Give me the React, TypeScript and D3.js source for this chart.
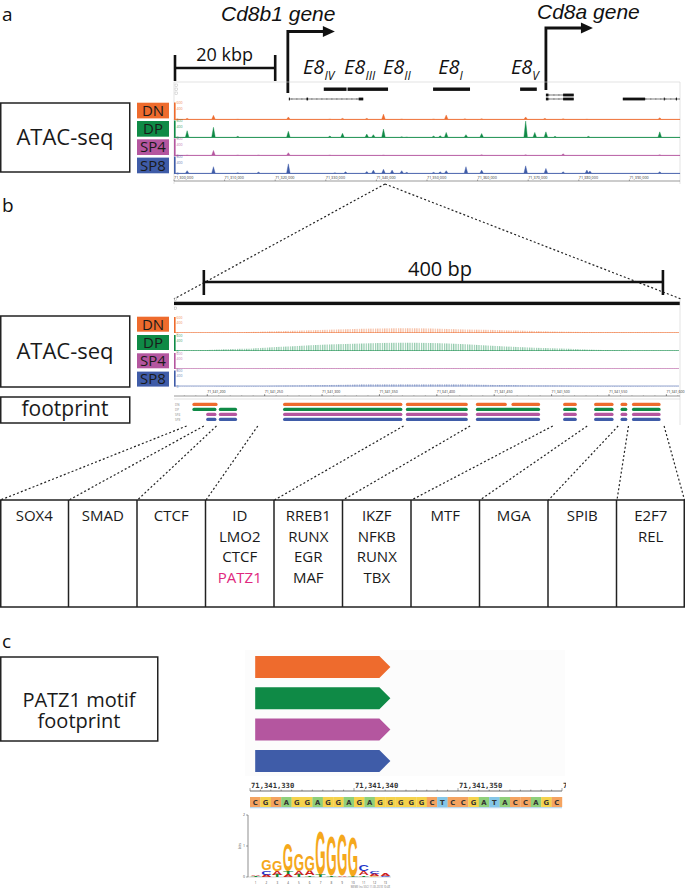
import React from 'react';
import * as d3 from 'd3';

// ---------------- shared ----------------
const CELLS = ['DN', 'DP', 'SP4', 'SP8'];
const CELL_COLORS = ['#ee6b2d', '#0f8a46', '#b4569f', '#3f5ca8'];

// ---------------- panel a (kb offset from 71,300,000) ----------------
const A_TICK_KB = [0, 10, 20, 30, 40, 50, 60, 70, 80, 90];
const A_TICK_LABELS = ['71,300,000', '71,310,000', '71,320,000', '71,330,000', '71,340,000', '71,350,000', '71,360,000', '71,370,000', '71,380,000', '71,390,000'];
const A_RANGE_MAX = 600;
const PEAKS_DN = [[2.6, 40], [7.8, 150], [12.6, 15], [22.6, 90], [30.8, 20], [33.3, 40], [38.1, 40], [41.4, 190], [45.0, 20], [51.3, 20], [53.8, 160], [57.5, 30], [60.8, 30], [69.5, 90], [73.3, 40], [76.9, 30], [81.6, 15], [96.0, 60]];
const PEAKS_DP = [[2.6, 240], [7.8, 360], [12.6, 40], [22.6, 220], [30.8, 50], [33.3, 150], [38.1, 120], [39.4, 100], [41.4, 300], [45.0, 30], [46.0, 20], [51.3, 50], [52.6, 60], [53.8, 180], [57.7, 100], [60.8, 140], [69.5, 580], [71.3, 180], [73.5, 200], [75.3, 40], [81.9, 40], [96.0, 200]];
const PEAKS_SP4 = [[2.6, 20], [7.8, 180], [12.6, 20], [16.7, 20], [22.6, 100], [30.8, 20], [41.4, 20], [60.8, 30], [69.5, 30], [76.9, 60], [96.0, 30]];
const PEAKS_SP8 = [[2.6, 100], [7.8, 240], [12.6, 30], [16.7, 50], [22.6, 340], [31.8, 30], [33.9, 60], [38.1, 70], [39.4, 120], [41.4, 150], [43.1, 120], [45.0, 100], [46.0, 40], [51.3, 40], [52.6, 60], [53.8, 100], [57.7, 240], [60.8, 120], [69.5, 270], [73.5, 180], [76.9, 60], [81.6, 120], [82.2, 90], [96.0, 60]];
const A_PEAKS = [PEAKS_DN, PEAKS_DP, PEAKS_SP4, PEAKS_SP8];

const ENHANCERS = [[29.6, 34.1], [34.3, 42.3], [51.2, 58.5], [68.4, 71.7]];
const ENH_LABELS = [{ kb: 25.5, sub: 'IV' }, { kb: 33.6, sub: 'III' }, { kb: 41.3, sub: 'II' }, { kb: 52.2, sub: 'I' }, { kb: 66.6, sub: 'V' }];
const GENES = [
  { row: 1, start: 22.7, end: 37.4, exons: [[22.7, 22.9], [26.2, 26.5], [36.5, 37.4]] },
  { row: 0, start: 73.5, end: 79.0, exons: [[73.5, 74.0], [76.9, 79.0]] },
  { row: 1, start: 73.5, end: 79.0, exons: [[73.5, 74.0], [76.9, 79.0]] },
  { row: 1, start: 88.7, end: 100, exons: [[88.7, 93.1], [96.8, 97.0], [99.2, 99.4]] },
];
const TSS = [{ label: 'Cd8b1 gene', kb: 22.5 }, { label: 'Cd8a gene', kb: 73.5 }];
const SCALE_A_KB = 20;

// ---------------- panel b (bp offset from 71,341,000) ----------------
const B_TICK_BP = [200, 250, 300, 350, 400, 450, 500, 550, 600];
const B_TICK_LABELS = ['71,341,200', '71,341,250', '71,341,300', '71,341,350', '71,341,400', '71,341,450', '71,341,500', '71,341,550', '71,341,600'];
const B_POS = [171, 200, 230, 260, 290, 320, 350, 380, 410, 440, 470, 500, 530, 560, 590, 611];
const B_DN = [20, 20, 30, 70, 100, 140, 170, 175, 150, 120, 90, 60, 40, 25, 20, 20];
const B_DP = [20, 40, 80, 150, 220, 260, 300, 310, 280, 220, 150, 100, 60, 30, 20, 20];
const B_SP4 = [12, 12, 12, 15, 20, 20, 20, 22, 20, 20, 18, 15, 12, 12, 12, 12];
const B_SP8 = [10, 10, 15, 30, 50, 70, 80, 85, 80, 70, 50, 35, 20, 15, 10, 10];
const B_SIGNALS = [B_DN, B_DP, B_SP4, B_SP8];

const FP_DN = [[187, 209], [266, 370], [373, 427], [434, 461], [465, 490], [510, 522], [537, 554], [560, 566], [570, 595]];
const FP_DP = [[187, 208], [210, 226], [266, 370], [373, 427], [434, 490], [510, 522], [537, 554], [560, 566], [570, 595]];
const FP_SP4 = [[199, 208], [210, 226], [266, 370], [373, 427], [434, 490], [510, 522], [537, 554], [560, 566], [570, 595]];
const FP_SP8 = [[199, 208], [210, 226], [266, 370], [373, 427], [434, 490], [510, 522], [537, 554], [560, 566], [570, 595]];
const FOOTPRINTS = [FP_DN, FP_DP, FP_SP4, FP_SP8];
const FP_LINKS = [182, 197, 208, 244, 371, 429, 501, 531, 558, 567, 598];
const SCALE_B_BP = 400;
const SCALE_B_START = 197;

const TF_GROUPS = [['SOX4'], ['SMAD'], ['CTCF'], ['ID', 'LMO2', 'CTCF', 'PATZ1'], ['RREB1', 'RUNX', 'EGR', 'MAF'], ['IKZF', 'NFKB', 'RUNX', 'TBX'], ['MTF'], ['MGA'], ['SPIB'], ['E2F7', 'REL']];
const HIGHLIGHT_TF = 'PATZ1';

// ---------------- panel c (bp offset from 71,341,000) ----------------
const SEQ_START = 330;
const SEQ = 'CGCAGGAGGAGAGGGGGCTCCGATACCAGC';
const C_TICK_BP = [330, 340, 350, 360];
const C_TICK_LABELS = ['71,341,330', '71,341,340', '71,341,350', '71,341,360'];
const PATZ1_SITES = [[330.5, 343.5], [330.5, 343.5], [330.5, 343.5], [330.5, 343.5]];
const LOGO = [
  [['T', 0.04], ['A', 0.04]],
  [['A', 0.07], ['C', 0.14], ['G', 0.32]],
  [['T', 0.06], ['A', 0.12], ['G', 0.32]],
  [['A', 0.1], ['T', 0.1], ['G', 0.9]],
  [['T', 0.06], ['A', 0.14], ['G', 0.55]],
  [['T', 0.05], ['A', 0.15], ['G', 0.52]],
  [['T', 0.1], ['G', 1.4]],
  [['T', 0.05], ['G', 1.3]],
  [['A', 0.05], ['G', 1.33]],
  [['T', 0.04], ['G', 1.27]],
  [['T', 0.05], ['A', 0.14], ['C', 0.22]],
  [['G', 0.04], ['A', 0.07], ['C', 0.1]],
  [['C', 0.04], ['A', 0.07]],
];
const LOGO_POSITIONS = LOGO.map((_, i) => String(i + 1));
const LOGO_COLORS: Record<string, string> = { A: '#cc1f1f', C: '#1f35c8', G: '#f5a81c', T: '#14852f' };
const BASE_BG: Record<string, string> = { A: '#8fcf7a', C: '#f4a360', G: '#f5d24c', T: '#84c6e8' };
const GLYPH_W: Record<string, number> = { A: 0.722, C: 0.722, G: 0.778, T: 0.611 };

const FONT = "'Open Sans', 'Noto Sans', sans-serif";

function peakPoints(peaks: number[][], hw: number, x0: number, x1: number, base: number) {
  const pts: [number, number][] = [[x0, base]];
  [...peaks].sort((a, b) => a[0] - b[0]).forEach(([p, v]) => {
    pts.push([p - hw, base], [p, v], [p + hw, base]);
  });
  pts.push([x1, base]);
  return pts;
}

const Dotted = ({ x1, y1, x2, y2 }: any) => (
  <line x1={x1} y1={y1} x2={x2} y2={y2} stroke="#222" strokeWidth={1.2} strokeDasharray="2 2.2" />
);

export default function App() {
  const W = 685, H = 889;

  const xA = d3.scaleLinear().domain([0, 100]).range([174, 680]);
  const laneATop = [102.5, 120.5, 138.5, 156.5];
  const laneAH = 17;
  const xB = d3.scaleLinear().domain([171, 611]).range([174, 679]);
  const laneBBase = [333, 351, 369, 386.5];
  const laneBH = 16;
  const xC = d3.scaleLinear().domain([330, 360]).range([250, 562]);
  const colW = xC(1) - xC(0);
  const xLogo = d3.scaleBand<string>().domain(LOGO_POSITIONS).range([250, 391]).padding(0.04);
  const yLogo = d3.scaleLinear().domain([0, 2]).range([877, 815]);

  const labelRects = (top: number, step: number, h: number) =>
    CELLS.map((c, i) => (
      <g key={c}>
        <rect x={137} y={top + i * step} width={32} height={h} fill={CELL_COLORS[i]} />
        <text x={153} y={top + i * step + h / 2 + 5.3} textAnchor="middle" fontSize={15} fill="#1a1a1a">{c}</text>
      </g>
    ));

  const aTracks = CELLS.map((c, i) => {
    const y = d3.scaleLinear().domain([0, A_RANGE_MAX]).range([laneATop[i] + laneAH, laneATop[i]]);
    const pts = peakPoints(A_PEAKS[i], 0.35, 0, 100, 8);
    const area = d3.area<[number, number]>().x(d => xA(d[0])).y0(y(0)).y1(d => y(d[1]));
    return (
      <g key={c}>
        <rect x={174} y={laneATop[i]} width={1.6} height={laneAH} fill={CELL_COLORS[i]} />
        {[600, 400, 0].map((v) => (
          <text key={v} x={176.5} y={y(v) + 1.5} fontSize={3.6} fill={CELL_COLORS[i]} opacity={0.8}>{v}</text>
        ))}
        <path d={area(pts) || ''} fill={CELL_COLORS[i]} stroke={CELL_COLORS[i]} strokeWidth={0.4} />
        <line x1={xA(0)} x2={xA(100)} y1={y(0)} y2={y(0)} stroke={CELL_COLORS[i]} strokeWidth={0.8} opacity={0.7} />
      </g>
    );
  });

  const bTracks = CELLS.map((c, i) => {
    const base = laneBBase[i];
    const y = d3.scaleLinear().domain([0, A_RANGE_MAX]).range([base, base - laneBH]);
    const pts = B_POS.map((p, k) => [p, B_SIGNALS[i][k]] as [number, number]);
    const area = d3.area<[number, number]>().x(d => xB(d[0])).y0(base).y1(d => y(d[1])).curve(d3.curveMonotoneX);
    return (
      <g key={c}>
        <rect x={174} y={base - laneBH} width={1.6} height={laneBH} fill={CELL_COLORS[i]} />
        {[600, 400, 0].map((v) => (
          <text key={v} x={176.5} y={y(v) + 1.5} fontSize={3.4} fill={CELL_COLORS[i]} opacity={0.8}>{v}</text>
        ))}
        <path d={area(pts) || ''} fill={`url(#stripe${i})`} />
        <line x1={xB(171)} x2={xB(611)} y1={base - 0.5} y2={base - 0.5} stroke={CELL_COLORS[i]} strokeWidth={1} opacity={0.55} />
      </g>
    );
  });

  const logo = LOGO.map((col, ci) => {
    let yb = yLogo(0);
    const bw = xLogo.bandwidth();
    const cx = (xLogo(LOGO_POSITIONS[ci]) as number) + bw / 2;
    return (
      <g key={ci}>
        {col.map(([l, b], li) => {
          const h = yLogo(0) - yLogo(b as number);
          const yBottom = yb;
          yb -= h;
          const sx = bw / (GLYPH_W[l as string] * 100);
          const sy = h / 72;
          return (
            <text key={li} transform={`translate(${cx},${yBottom}) scale(${sx},${sy})`} x={0} y={0}
              textAnchor="middle" fontSize={100} fontWeight="bold" fontFamily="'Liberation Sans', Arial, sans-serif"
              fill={LOGO_COLORS[l as string]}>{l}</text>
          );
        })}
        <text x={cx} y={883.5} fontSize={3} textAnchor="middle" fill="#444">{LOGO_POSITIONS[ci]}</text>
      </g>
    );
  });

  const colWT = 685 / TF_GROUPS.length;

  return (
    <svg width={W} height={H} style={{ position: 'absolute', left: 0, top: 0, background: '#fff' }} fontFamily={FONT}>
      <defs>
        {CELL_COLORS.map((c, i) => (
          <pattern key={i} id={`stripe${i}`} width={2.3} height={20} patternUnits="userSpaceOnUse">
            <rect width={1.2} height={20} fill={c} opacity={0.45} />
          </pattern>
        ))}
        <clipPath id="rulerClip"><rect x={240} y={770} width={326} height={30} /></clipPath>
      </defs>
      <rect width={W} height={H} fill="#fff" />

      {/* ================= panel a ================= */}
      <text x={2} y={21} fontSize={19} fill="#111">a</text>

      {TSS.map((t, i) => {
        const x = xA(t.kb);
        const yTop = i === 0 ? 31.5 : 28;
        const yBot = i === 0 ? 93 : 90;
        const tip = x + 47;
        return (
          <g key={t.label}>
            <path d={`M${x},${yBot} V${yTop} H${tip - 10}`} fill="none" stroke="#111" strokeWidth={2.8} />
            <path d={`M${tip - 12},${yTop - 5.5} L${tip},${yTop} L${tip - 12},${yTop + 5.5} Z`} fill="#111" />
            <text x={i === 0 ? 221 : 537} y={i === 0 ? 21 : 18.5} fontSize={21} fontStyle="italic"
              fontFamily="'Liberation Sans', Arial, sans-serif" fill="#111">{t.label}</text>
          </g>
        );
      })}

      <line x1={xA(0) + 1} x2={xA(SCALE_A_KB)} y1={68} y2={68} stroke="#111" strokeWidth={2.6} />
      <line x1={xA(0) + 1} x2={xA(0) + 1} y1={55} y2={81} stroke="#111" strokeWidth={2.6} />
      <line x1={xA(SCALE_A_KB)} x2={xA(SCALE_A_KB)} y1={55} y2={81} stroke="#111" strokeWidth={2.6} />
      <text x={(xA(0) + xA(SCALE_A_KB)) / 2} y={61} textAnchor="middle" fontSize={18} fill="#111">20 kbp</text>

      {ENH_LABELS.map((e) => (
        <text key={e.sub} x={xA(e.kb)} y={74} fontSize={20} fontStyle="italic" fill="#111">
          E8<tspan fontSize={12} dy={6}>{e.sub}</tspan>
        </text>
      ))}

      <line x1={174} x2={680} y1={82} y2={82} stroke="#d0d0d0" strokeWidth={0.6} />
      <line x1={680} x2={680} y1={82} y2={184} stroke="#d0d0d0" strokeWidth={0.6} />
      <line x1={174} x2={174} y1={82} y2={184} stroke="#d0d0d0" strokeWidth={0.6} />
      {[0, 1, 2].map((k) => (
        <rect key={k} x={175} y={84 + k * 4} width={2.5} height={2.5} fill="none" stroke="#aaa" strokeWidth={0.4} />
      ))}

      {ENHANCERS.map(([s, e], i) => (
        <rect key={i} x={xA(s)} y={87.5} width={xA(e) - xA(s)} height={3.4} fill="#111" />
      ))}

      {GENES.map((g, i) => {
        const y = g.row === 0 ? 95 : 99;
        const ticks = d3.range(xA(g.start) + 3, xA(g.end), 5);
        return (
          <g key={i}>
            <line x1={xA(g.start)} x2={xA(g.end)} y1={y} y2={y} stroke="#222" strokeWidth={0.6} />
            {ticks.map((t, k) => (<line key={k} x1={t} x2={t} y1={y - 1} y2={y + 1} stroke="#444" strokeWidth={0.4} />))}
            {g.exons.map(([s, e], k) => (
              <rect key={k} x={xA(s)} y={y - 1.4} width={Math.max(1, xA(e) - xA(s))} height={2.8} fill="#111" />
            ))}
          </g>
        );
      })}

      <rect x={0.75} y={103} width={129} height={69} fill="none" stroke="#222" strokeWidth={1.5} />
      <text x={65} y={145} textAnchor="middle" fontSize={22} fill="#1a1a1a">ATAC-seq</text>
      {labelRects(102.7, 18.3, 15.7)}
      {aTracks}

      <line x1={174} x2={680} y1={181} y2={181} stroke="#555" strokeWidth={0.6} />
      {A_TICK_KB.map((k, i) => (
        <g key={k}>
          <line x1={xA(k)} x2={xA(k)} y1={179.5} y2={181} stroke="#555" strokeWidth={0.5} />
          <text x={xA(k)} y={178.5} fontSize={3.8} fill="#333">{A_TICK_LABELS[i]}</text>
        </g>
      ))}

      <Dotted x1={385} y1={184} x2={174} y2={299} />
      <Dotted x1={385} y1={184} x2={681} y2={299} />

      {/* ================= panel b ================= */}
      <text x={2} y={212} fontSize={19} fill="#111">b</text>
      <line x1={xB(SCALE_B_START)} x2={xB(SCALE_B_START + SCALE_B_BP)} y1={282} y2={282} stroke="#111" strokeWidth={2.6} />
      <line x1={xB(SCALE_B_START)} x2={xB(SCALE_B_START)} y1={270} y2={295} stroke="#111" strokeWidth={2.6} />
      <line x1={xB(SCALE_B_START + SCALE_B_BP)} x2={xB(SCALE_B_START + SCALE_B_BP)} y1={270} y2={295} stroke="#111" strokeWidth={2.6} />
      <text x={440} y={276} textAnchor="middle" fontSize={20} fill="#111">400 bp</text>

      <rect x={174} y={301.7} width={506} height={3.4} fill="#111" />
      <rect x={174.5} y={298} width={2.2} height={2.2} fill="none" stroke="#999" strokeWidth={0.4} />
      <rect x={174.5} y={307} width={2.2} height={2.2} fill="none" stroke="#999" strokeWidth={0.4} />
      <line x1={680} x2={680} y1={299} y2={425} stroke="#d0d0d0" strokeWidth={0.6} />

      <rect x={0.75} y={316} width={129} height={71} fill="none" stroke="#222" strokeWidth={1.5} />
      <text x={65} y={359} textAnchor="middle" fontSize={22} fill="#1a1a1a">ATAC-seq</text>
      {labelRects(316.7, 18.3, 15)}
      {bTracks}

      <line x1={174} x2={680} y1={396} y2={396} stroke="#555" strokeWidth={0.6} />
      {d3.range(180, 611, 10).map((bp) => (
        <line key={bp} x1={xB(bp)} x2={xB(bp)} y1={395} y2={396} stroke="#777" strokeWidth={0.4} />
      ))}
      {B_TICK_BP.map((bp, i) => (
        <g key={bp}>
          <line x1={xB(bp)} x2={xB(bp)} y1={394} y2={396} stroke="#444" strokeWidth={0.5} />
          <text x={xB(bp)} y={393} fontSize={3.6} fill="#333">{B_TICK_LABELS[i]}</text>
        </g>
      ))}
      <line x1={174} x2={680} y1={399} y2={399} stroke="#ccc" strokeWidth={0.6} />

      <rect x={0.75} y={397} width={129} height={26} fill="none" stroke="#222" strokeWidth={1.5} />
      <text x={65} y={416} textAnchor="middle" fontSize={21} fill="#1a1a1a">footprint</text>

      {FOOTPRINTS.map((segs, i) => (
        <g key={i}>
          <text x={175} y={404.5 + i * 5 + 1.2} fontSize={3} fill="#888">{CELLS[i]}</text>
          {segs.map(([s, e], k) => (
            <rect key={k} x={xB(s)} y={402.8 + i * 5} width={xB(e) - xB(s)} height={3.2} rx={1.6} fill={CELL_COLORS[i]} />
          ))}
        </g>
      ))}

      {FP_LINKS.map((bp, i) => (
        <Dotted key={i} x1={xB(bp)} y1={426} x2={Math.min(684.5, i * colWT + 0.5)} y2={500} />
      ))}

      <rect x={0.75} y={500} width={683.5} height={107} fill="none" stroke="#222" strokeWidth={1.5} />
      {TF_GROUPS.map((g, i) => (
        <g key={i}>
          {i > 0 && <line x1={i * colWT} x2={i * colWT} y1={500} y2={607} stroke="#222" strokeWidth={1.5} />}
          {g.map((tf, k) => (
            <text key={k} x={i * colWT + colWT / 2} y={521 + k * 20.5} textAnchor="middle" fontSize={15}
              fill={tf === HIGHLIGHT_TF ? '#e0287e' : '#1a1a1a'}>{tf}</text>
          ))}
        </g>
      ))}

      {/* ================= panel c ================= */}
      <text x={2} y={648} fontSize={19} fill="#111">c</text>
      <rect x={245} y={650} width={320} height={126} fill="#fcfcfc" />
      <rect x={0.75} y={657} width={157} height={84} fill="none" stroke="#222" strokeWidth={1.5} />
      <text x={79} y={707} textAnchor="middle" fontSize={20} fill="#1a1a1a">PATZ1 motif</text>
      <text x={79} y={728} textAnchor="middle" fontSize={20} fill="#1a1a1a">footprint</text>

      {PATZ1_SITES.map(([s, e], i) => {
        const x0 = xC(s), x1 = xC(e);
        const y0 = 656 + i * 31.3, h = 22;
        return (
          <path key={i} d={`M${x0},${y0} H${x1 - 11} L${x1},${y0 + h / 2} L${x1 - 11},${y0 + h} H${x0} Z`} fill={CELL_COLORS[i]} />
        );
      })}

      <line x1={xC(330)} x2={xC(360)} y1={791} y2={791} stroke="#444" strokeWidth={0.8} />
      {d3.range(330, 361, 1).map((bp) => (
        <line key={bp} x1={xC(bp)} x2={xC(bp)} y1={bp % 10 === 0 ? 788 : 789.6} y2={791} stroke="#444" strokeWidth={0.5} />
      ))}
      <g clipPath="url(#rulerClip)">
        {C_TICK_BP.map((bp, i) => (
          <text key={bp} x={xC(bp) + 1} y={787.5} fontSize={7.2} fontWeight="bold" fontFamily="'DejaVu Sans Mono', monospace" fill="#333">{C_TICK_LABELS[i]}</text>
        ))}
      </g>

      {SEQ.split('').map((b, i) => (
        <g key={i}>
          <rect x={xC(SEQ_START + i)} y={797} width={colW + 0.2} height={10} fill={BASE_BG[b]} />
          <text x={xC(SEQ_START + i) + colW / 2} y={804.6} textAnchor="middle" fontSize={6.8} fontWeight="bold" fontFamily="'DejaVu Sans', sans-serif" fill="#333">{b}</text>
        </g>
      ))}
      <rect x={xC(330)} y={807} width={xC(360) - xC(330)} height={1.3} fill="#bcd9ee" />

      <line x1={248} x2={248} y1={815} y2={877} stroke="#444" strokeWidth={0.6} />
      {[0, 1, 2].map((v) => (
        <g key={v}>
          <line x1={246} x2={248} y1={yLogo(v)} y2={yLogo(v)} stroke="#444" strokeWidth={0.5} />
          <text x={245} y={yLogo(v) + 1.2} fontSize={3.5} textAnchor="end" fill="#444">{v}</text>
        </g>
      ))}
      <text transform="translate(241,846) rotate(-90)" fontSize={3.5} textAnchor="middle" fill="#444">bits</text>
      <line x1={248} x2={391} y1={877} y2={877} stroke="#666" strokeWidth={0.3} />
      {logo}
      <text x={390} y={887.5} fontSize={2.6} textAnchor="end" fill="#777">MEME (no SSC) 11.05.2018 10:48</text>
    </svg>
  );
}
